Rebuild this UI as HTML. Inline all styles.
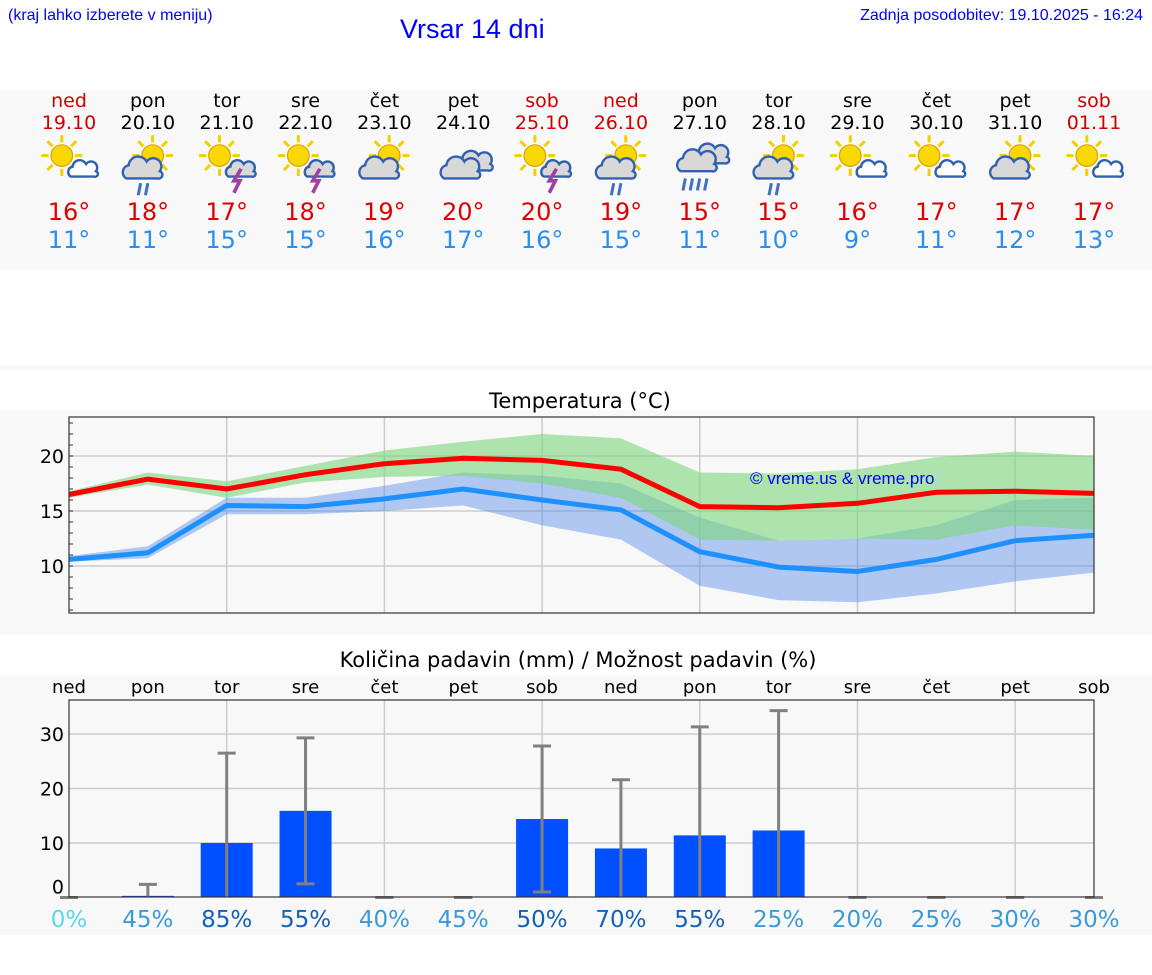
<!DOCTYPE html>
<html><head><meta charset="utf-8">
<style>
body{margin:0;width:1152px;height:975px;background:#fff;font-family:"DejaVu Sans","Liberation Sans",sans-serif;position:relative;overflow:hidden}
.a{position:absolute}
</style></head><body>
<div class="a" style="left:8px;top:7px;font-size:16px;color:#00f;font-family:'Liberation Sans',sans-serif">(kraj lahko izberete v meniju)</div>
<div class="a" style="left:400px;top:14px;font-size:27px;color:#00f;font-family:'Liberation Sans',sans-serif">Vrsar 14 dni</div>
<div class="a" style="right:9px;top:7px;font-size:16px;color:#00f;font-family:'Liberation Sans',sans-serif">Zadnja posodobitev: 19.10.2025 - 16:24</div>
<div class="a" style="left:0;top:90px;width:1152px;height:180px;background:#f8f8f8"></div>
<div class="a" style="left:0;top:365px;width:1152px;height:5px;background:#f8f8f8"></div>
<div class="a" style="left:0;top:410px;width:1152px;height:225px;background:#f8f8f8"></div>
<div class="a" style="left:0;top:675px;width:1152px;height:260px;background:#f8f8f8"></div>
<svg class="a" style="left:0;top:0" width="1152" height="975" id="svg"></svg>
<script>
const days=["ned","pon","tor","sre","čet","pet","sob","ned","pon","tor","sre","čet","pet","sob"];
const dates=["19.10","20.10","21.10","22.10","23.10","24.10","25.10","26.10","27.10","28.10","29.10","30.10","31.10","01.11"];
const maxT=[16,18,17,18,19,20,20,19,15,15,16,17,17,17];
const minT=[11,11,15,15,16,17,16,15,11,10,9,11,12,13];
const icons=["sc","sbr","sl","sl","sb","c","sl","sbr","cr","sbr","sc","sc","sb","sc"];
const tMax=[16.5,17.9,17.0,18.3,19.3,19.8,19.6,18.8,15.4,15.3,15.7,16.7,16.8,16.6];
const tMin=[10.6,11.2,15.5,15.4,16.1,17.0,16.0,15.1,11.3,9.9,9.5,10.6,12.3,12.8];
const gHi=[16.8,18.5,17.7,19.1,20.5,21.3,22.0,21.6,18.5,18.4,18.8,19.9,20.4,20.0];
const gLo=[16.2,17.4,16.2,17.6,18.1,18.2,17.5,16.2,12.4,12.3,12.5,12.4,13.7,13.3];
const bHi=[10.9,11.8,16.2,16.2,17.3,18.5,18.2,17.5,14.4,12.3,12.5,13.7,16.0,16.2];
const bLo=[10.4,10.7,14.7,14.7,15.0,15.5,13.7,12.4,8.2,6.9,6.7,7.5,8.6,9.4];
const tTicks=[10,15,20];
const rain=[0,0.3,10,15.9,0,0,14.4,9,11.4,12.3,0,0,0,0];
const rainHi=[0,2.4,26.5,29.3,0,0,27.8,21.6,31.3,34.3,0,0,0,0];
const rainLo=[0,0,0,2.5,0,0,1,0,0,0,0,0,0,0];
const prob=[0,45,85,55,40,45,50,70,55,25,20,25,30,30];
const rTicks=[0,10,20,30];
const NS="http://www.w3.org/2000/svg",svg=document.getElementById('svg');
function mk(t,a,p){const e=document.createElementNS(NS,t);for(const k in a)e.setAttribute(k,a[k]);(p||svg).appendChild(e);return e;}
const X=i=>69+i*(1025/13);
const TY=v=>456+(20-v)*11;
const RY=v=>897.5-v*5.45;
const red=[0,6,7,13];
days.forEach((d,i)=>{const x=X(i),c=red.includes(i)?"#c00":"#000";
 let t=mk('text',{x:x,y:107,'text-anchor':'middle','font-size':19,fill:c});t.textContent=d;
 
 t=mk('text',{x:x,y:129,'text-anchor':'middle','font-size':19,fill:c});t.textContent=dates[i];
 
 t=mk('text',{x:x,y:220,'text-anchor':'middle','font-size':24,fill:"#d00"});t.textContent=maxT[i]+"°";
 
 t=mk('text',{x:x,y:248,'text-anchor':'middle','font-size':24,fill:"#2a8ff0"});t.textContent=minT[i]+"°";
 
 const g=mk('g',{transform:`translate(${x},164) scale(1.2)`});
 
 const ic=icons[i];
 if(ic[0]==='s'){const sx=ic==='sc'||ic==='sl'?-6:4,sy=-7;
  for(let k=0;k<8;k++){const a=k*Math.PI/4;mk('line',{x1:sx+Math.cos(a)*11,y1:sy+Math.sin(a)*11,x2:sx+Math.cos(a)*17,y2:sy+Math.sin(a)*17,stroke:'#f0d000','stroke-width':2.5},g);}
  mk('circle',{cx:sx,cy:sy,r:9,fill:'#f8d800',stroke:'#e0a000','stroke-width':1},g);}
 const cloud=(cx,cy,s,fill)=>mk('path',{d:`M${cx-14*s},${cy+6*s} a${6*s},${6*s} 0 0 1 ${2*s},${-11*s} a${8*s},${8*s} 0 0 1 ${15*s},${-3*s} a${6*s},${6*s} 0 0 1 ${11*s},${8*s} a${3*s},${3*s} 0 0 1 ${-2*s},${6*s} z`,fill:fill,stroke:'#3060b0','stroke-width':2},g);
 if(ic==='sc'||ic==='sl'){cloud(12,6,0.75,ic==='sl'?'#d8d8d8':'#fff');}
 if(ic==='sb'||ic==='sbr'){cloud(-4,6,1,'#d8d8d8');}
 if(ic==='c'){cloud(10,0,0.9,'#d8d8d8');cloud(-2,6,1,'#d8d8d8');}
 if(ic==='cr'){cloud(10,-6,0.9,'#d8d8d8');cloud(-2,0,1,'#d8d8d8');}
 if(ic==='sl')mk('path',{d:'M12,4 L6,14 L11,14 L6,24',fill:'none',stroke:'#a040a0','stroke-width':3},g);
 if(ic==='sbr')[-6,0].forEach(o=>mk('line',{x1:o,y1:16,x2:o-2,y2:26,stroke:'#4070c0','stroke-width':2.5},g));
 if(ic==='cr')[-12,-6,0,6].forEach(o=>mk('line',{x1:o,y1:12,x2:o-2,y2:22,stroke:'#4070c0','stroke-width':2.5},g));
});
let t=mk('text',{x:580,y:408,'text-anchor':'middle','font-size':21,fill:'#000'});t.textContent="Temperatura (°C)";

mk('rect',{x:69,y:417,width:1025,height:196,fill:'#f8f8f8'});
for(let i=2;i<13;i+=2)mk('line',{x1:X(i),y1:417,x2:X(i),y2:613,stroke:'#ccc','stroke-width':1.5});
tTicks.forEach(v=>{mk('line',{x1:69,y1:TY(v),x2:1094,y2:TY(v),stroke:'#ccc','stroke-width':1.5});
 const tt=mk('text',{x:64,y:TY(v)+7,'text-anchor':'end','font-size':19});tt.textContent=v;
 });
for(let v=6;v<=23;v++)mk('line',{x1:69,y1:TY(v),x2:73,y2:TY(v),stroke:'#333','stroke-width':1});
const band=(hi,lo,fill,op,name)=>{let d=hi.map((v,i)=>(i?'L':'M')+X(i)+','+TY(v)).join('')+lo.map((v,i)=>'L'+X(lo.length-1-i)+','+TY(lo[lo.length-1-i])).join('')+'Z';
 const e=mk('path',{d:d,fill:fill,'fill-opacity':op});};
band(bHi,bLo,'#4d82e6',0.42,'min-temp-range');
band(gHi,gLo,'#7cd67c',0.6,'max-temp-range');
const line=(arr,c,name)=>{const e=mk('path',{d:arr.map((v,i)=>(i?'L':'M')+X(i)+','+TY(v)).join(''),fill:'none',stroke:c,'stroke-width':5});
 };
line(tMin,'#1e90ff','min-temp-line');line(tMax,'#ff0000','max-temp-line');
mk('rect',{x:69,y:417,width:1025,height:196,fill:'none',stroke:'#333','stroke-width':1.2});
t=mk('text',{x:750,y:484,'font-size':17,fill:'#00f','font-family':'Liberation Sans'});t.textContent="© vreme.us & vreme.pro";

t=mk('text',{x:578,y:667,'text-anchor':'middle','font-size':21});t.textContent="Količina padavin (mm) / Možnost padavin (%)";

days.forEach((d,i)=>{const e=mk('text',{x:X(i),y:693,'text-anchor':'middle','font-size':18});e.textContent=d;
 });
mk('rect',{x:69,y:700,width:1025,height:197,fill:'#f8f8f8'});
for(let i=2;i<13;i+=2)mk('line',{x1:X(i),y1:700,x2:X(i),y2:897,stroke:'#ccc','stroke-width':1.5});
rTicks.forEach(v=>{if(v)mk('line',{x1:69,y1:RY(v),x2:1094,y2:RY(v),stroke:'#ccc','stroke-width':1.5});
 const e=mk('text',{x:64,y:RY(v)+7-(v?0:11),'text-anchor':'end','font-size':19});e.textContent=v;
 });
rain.forEach((v,i)=>{if(v>0){const b=mk('rect',{x:X(i)-26,y:RY(v),width:52,height:RY(0)-RY(v),fill:'#0050ff'});
  }
 const x=X(i),g=mk('g',{stroke:'#808080','stroke-width':3});
 
 mk('line',{x1:x,y1:RY(rainLo[i]),x2:x,y2:RY(rainHi[i])},g);
 mk('line',{x1:x-9,y1:RY(rainHi[i]),x2:x+9,y2:RY(rainHi[i])},g);
 if(rainLo[i]>0||rainHi[i]===0)mk('line',{x1:x-9,y1:RY(rainLo[i]),x2:x+9,y2:RY(rainLo[i])},g);
 const pc=prob[i]===0?'#5cd6e8':prob[i]>=50?'#1560b8':'#3a9ad9';
 const e=mk('text',{x:x,y:927,'text-anchor':'middle','font-size':23,fill:pc});e.textContent=prob[i]+"%";
 });
mk('rect',{x:69,y:700,width:1025,height:197,fill:'none',stroke:'#333','stroke-width':1.2});
</script>
</body></html>
